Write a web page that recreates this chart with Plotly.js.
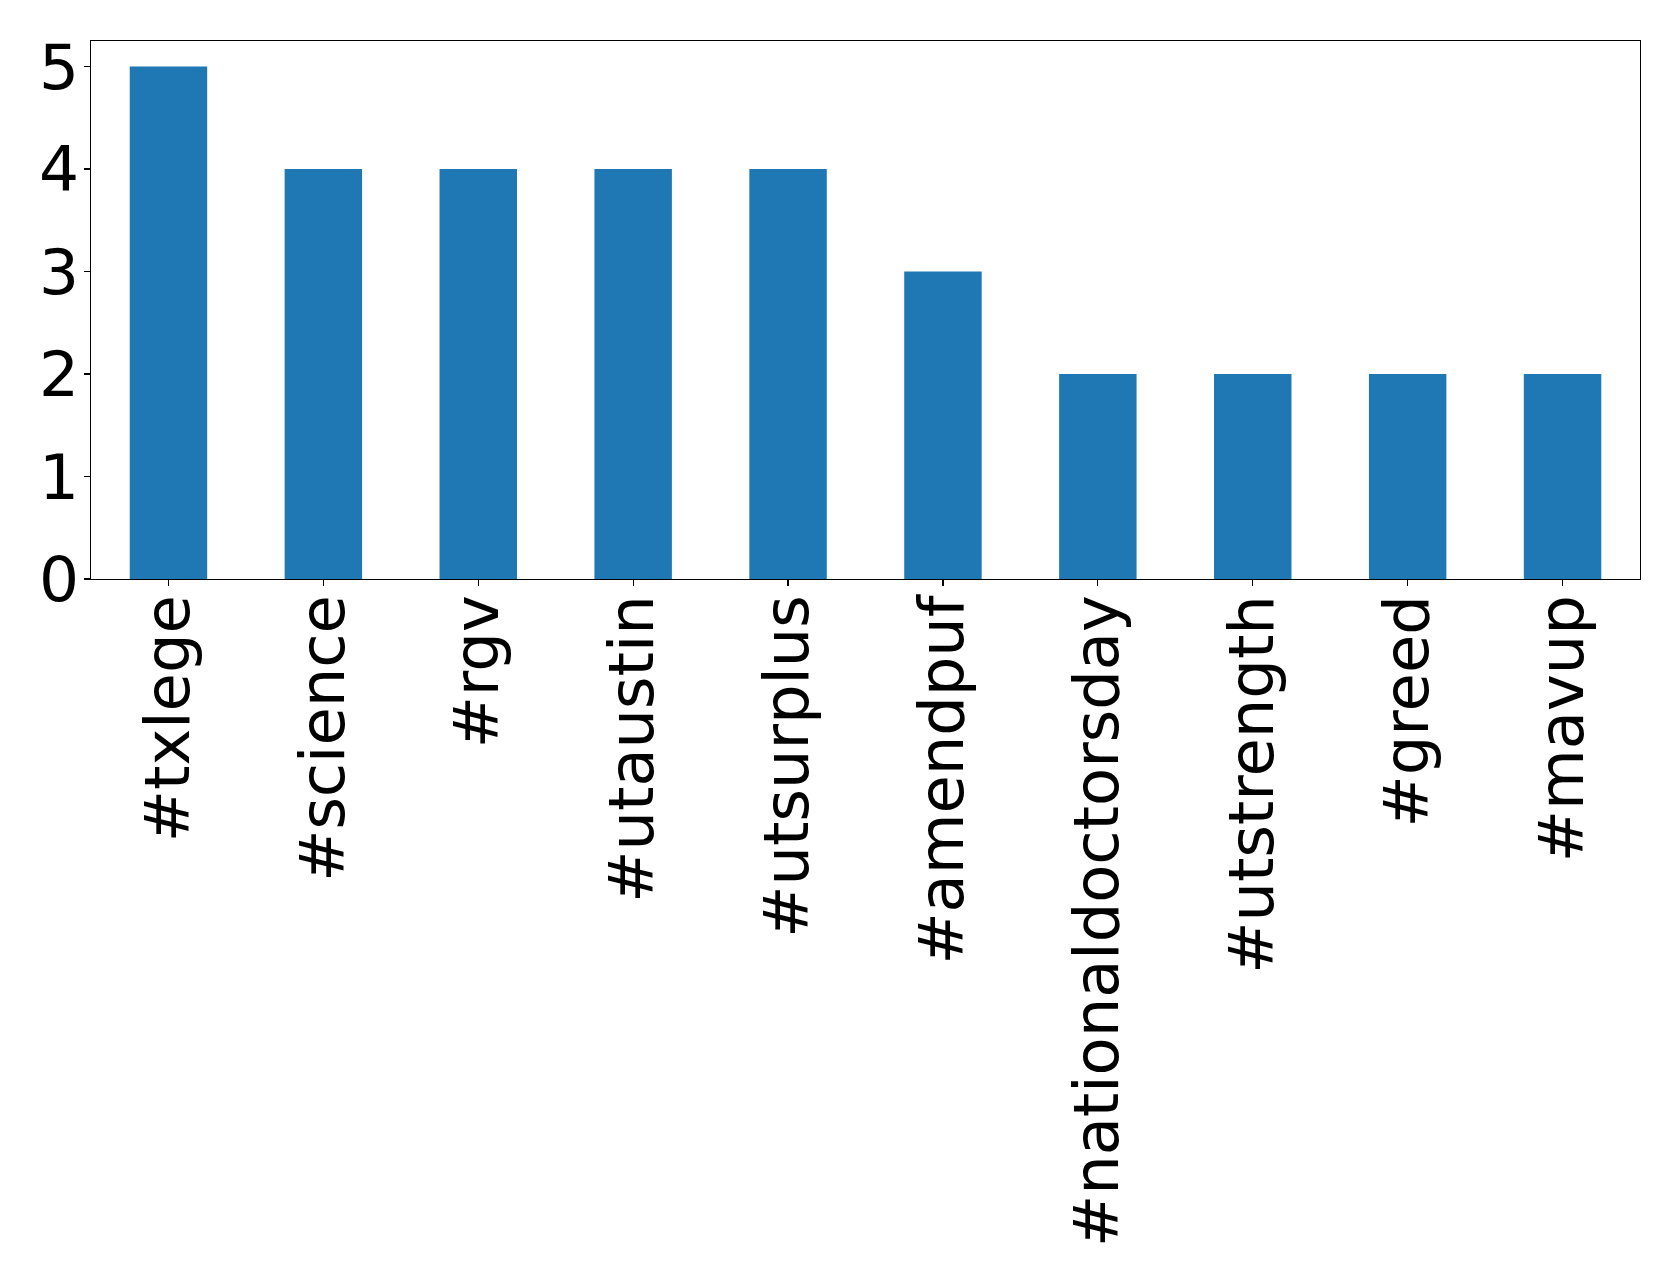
<!DOCTYPE html>
<html>
<head>
<meta charset="utf-8">
<script src="https://cdn.plot.ly/plotly-3.0.1.min.js"></script>
<style>html,body{margin:0;padding:0;background:#fff;}#chart{width:1679px;height:1282px;}</style>
</head>
<body>
<div id="chart"></div>
<script>
const categories = ["#txlege", "#science", "#rgv", "#utaustin", "#utsurplus", "#amendpuf", "#nationaldoctorsday", "#utstrength", "#greed", "#mavup"];
const counts = [5, 4, 4, 4, 4, 3, 2, 2, 2, 2];
const yTicks = [0, 1, 2, 3, 4, 5];

const trace = {
  type: "bar",
  x: categories,
  y: counts,
  width: 0.5,
  marker: {color: "#1f77b4"},
  hoverinfo: "x+y"
};

const layout = {
  width: 1679,
  height: 1282,
  margin: {l: 90.5, r: 39, t: 40.5, b: 703, pad: 0},
  paper_bgcolor: "#ffffff",
  plot_bgcolor: "#ffffff",
  showlegend: false,
  font: {family: "DejaVu Sans", size: 62, color: "#000000"},
  xaxis: {
    type: "category",
    range: [-0.5, 9.5],
    tickangle: -90,
    ticks: "outside",
    ticklen: 6,
    tickwidth: 1.3,
    tickcolor: "#000",
    ticklabelstandoff: -16,
    showline: true,
    mirror: true,
    linecolor: "#000",
    linewidth: 1.3,
    showgrid: false,
    zeroline: false,
    tickfont: {family: "DejaVu Sans", size: 62.3, color: "#000"}
  },
  yaxis: {
    range: [0, 5.25],
    tickvals: yTicks,
    ticktext: yTicks.map(String),
    ticks: "outside",
    ticklen: 6,
    tickwidth: 1.3,
    tickcolor: "#000",
    ticklabelstandoff: -8,
    showline: true,
    mirror: true,
    linecolor: "#000",
    linewidth: 1.3,
    showgrid: false,
    zeroline: false,
    tickfont: {family: "DejaVu Sans", size: 63, color: "#000"}
  }
};

Plotly.newPlot("chart", [trace], layout, {displayModeBar: false, staticPlot: true});
</script>
</body>
</html>
